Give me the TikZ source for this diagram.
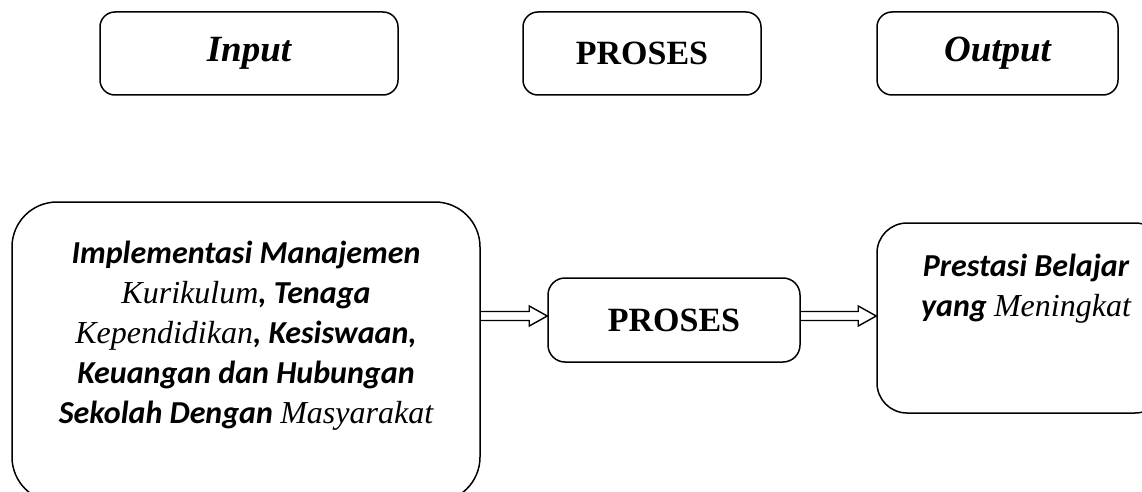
\documentclass[tikz,border=0pt]{standalone}
\usepackage{fontspec}
\setmainfont{Liberation Serif}
\newfontfamily\calf{Carlito}
\usetikzlibrary{calc}
\tikzset{
  rbox/.style={draw, line width=1.5pt, rounded corners=#1, inner sep=0pt, align=center},
  rbox/.default=15pt,
  serifbi/.style={font=\fontsize{37}{40}\selectfont\bfseries\itshape},
  procfont/.style={font=\fontsize{34}{40}\selectfont\bfseries},
  lowtext/.style={font=\calf\fontsize{32}{40}\selectfont\bfseries\itshape, align=center, inner sep=0pt},
  harrow/.style={draw, line width=1.4pt, line join=miter}
}
\newcommand\tnri[1]{{\rmfamily\mdseries\itshape #1}}
\newcommand\hollowarrow[2]{%
  \draw[harrow] ($(#1)+(0,-4.5)$) -- ($(#2)+(-18,-4.5)$) -- ($(#2)+(-18,-10)$) -- (#2)
    -- ($(#2)+(-18,10)$) -- ($(#2)+(-18,4.5)$) -- ($(#1)+(0,4.5)$);}
\begin{document}
\begin{tikzpicture}[x=1pt,y=-1pt]
\useasboundingbox (0,0) rectangle (1142,492);
% top row
\node[rbox, minimum width=298pt, minimum height=83pt, serifbi] (in) at (249,53.5) {Input};
\node[rbox, minimum width=238pt, minimum height=83pt, procfont] (pr) at (642,53.5) {PROSES};
\node[rbox, minimum width=241pt, minimum height=83pt, serifbi] (out) at (997.5,53.5) {Output};
% bottom row
\node[rbox=45pt, minimum width=468pt, minimum height=300pt] (big) at (246,352) {};
\node[lowtext] (bigtext) at (246,336) {Implementasi Manajemen\\
\tnri{Kurikulum}, Tenaga\\
\tnri{Kependidikan}, Kesiswaan,\\
Keuangan dan Hubungan\\
Sekolah Dengan \tnri{Masyarakat}};
\node[rbox=17pt, minimum width=252pt, minimum height=84pt, procfont] (proc) at (674,320) {PROSES};
\node[rbox=30pt, minimum width=288pt, minimum height=190pt] (res) at (1021,318) {};
\node[lowtext] (restext) at (1026,289) {Prestasi Belajar\\
yang \tnri{Meningkat}};
% arrows
\coordinate (a1s) at ($(big.east)+(0,-36)$);
\coordinate (a1e) at ($(proc.west)+(0,-4)$);
\coordinate (a2s) at ($(proc.east)+(0,-4)$);
\coordinate (a2e) at ($(res.west)+(0,-2)$);
\hollowarrow{a1s}{a1e}
\hollowarrow{a2s}{a2e}
\end{tikzpicture}
\end{document}
